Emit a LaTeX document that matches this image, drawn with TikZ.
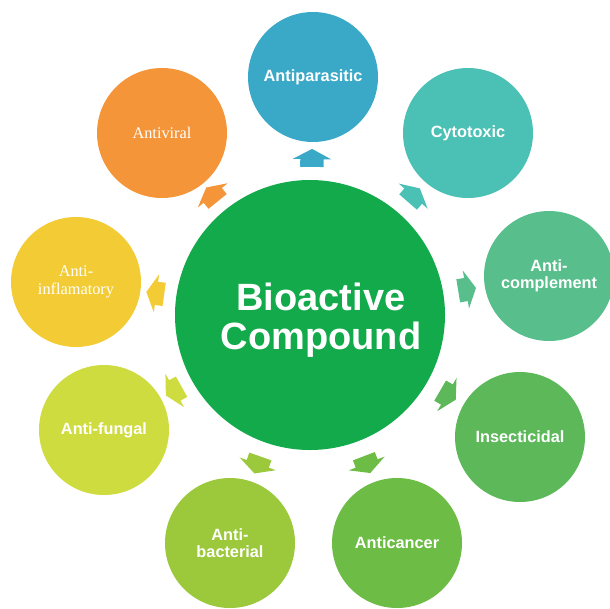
\documentclass[tikz,border=0pt]{standalone}
\usepackage{fontspec}
\setmainfont{Liberation Serif}
\setsansfont{Liberation Sans}
\usetikzlibrary{shapes.arrows}
\definecolor{biocore}{RGB}{18,170,74}
\definecolor{biopar}{RGB}{58,169,200}
\definecolor{biocyto}{RGB}{75,192,180}
\definecolor{biocomp}{RGB}{88,190,140}
\definecolor{bioinsect}{RGB}{93,184,90}
\definecolor{biocancer}{RGB}{108,188,69}
\definecolor{biobact}{RGB}{156,200,60}
\definecolor{biofung}{RGB}{207,220,64}
\definecolor{bioinfl}{RGB}{243,204,53}
\definecolor{bioviral}{RGB}{244,149,58}
\tikzset{
  bubble/.style={circle,inner sep=0pt,minimum size=130pt,align=center,text=white,
                 font=\sffamily\bfseries\fontsize{16.3}{17.5}\selectfont},
  serifbubble/.style={bubble,font=\rmfamily\fontsize{16.3}{17.5}\selectfont},
  outarrow/.style={single arrow,inner xsep=0pt,inner ysep=11.5pt,minimum height=18pt,
                   single arrow head extend=7.5pt,single arrow tip angle=124,
                   sloped,allow upside down,draw=none},
}
\begin{document}
\begin{tikzpicture}[x=1pt,y=-1pt]
\useasboundingbox (0,0) rectangle (610,608);
% hub
\node[circle,fill=biocore,minimum size=270pt,inner sep=0pt] (core) at (310,315) {};
\node[align=center,text=white,font=\sffamily\bfseries\fontsize{38}{38.5}\selectfont]
  (coretitle) at (321,320) {Bioactive\\Compound};
% activities round the hub
\node[bubble,fill=biopar] (antipar) at (313,77) {Antiparasitic};
\node[bubble,fill=biocyto] (cyto) at (468,133) {Cytotoxic};
\node[bubble,fill=biocomp] (anticomp) at (549,276) {Anti-\\complement};
\node[bubble,fill=bioinsect] (insect) at (520,437) {Insecticidal};
\node[bubble,fill=biocancer] (cancer) at (397,543) {Anticancer};
\node[bubble,fill=biobact] (bact) at (230,543) {Anti-\\bacterial};
\node[bubble,fill=biofung] (fungal) at (104,430) {Anti-fungal};
\node[serifbubble,fill=bioinfl] (inflam) at (76,282) {Anti-\\inflamatory};
\node[serifbubble,fill=bioviral] (viral) at (162,133) {Antiviral};
% block arrows pointing out
\path (core) -- node[outarrow,fill=biopar]{} (antipar);
\path (core) -- node[outarrow,fill=biocyto]{} (cyto);
\path (core) -- node[outarrow,fill=biocomp]{} (anticomp);
\path (core) -- node[outarrow,fill=bioinsect]{} (insect);
\path (core) -- node[outarrow,fill=biocancer]{} (cancer);
\path (core) -- node[outarrow,fill=biobact]{} (bact);
\path (core) -- node[outarrow,fill=biofung]{} (fungal);
\path (core) -- node[outarrow,fill=bioinfl]{} (inflam);
\path (core) -- node[outarrow,fill=bioviral]{} (viral);
\end{tikzpicture}
\end{document}
